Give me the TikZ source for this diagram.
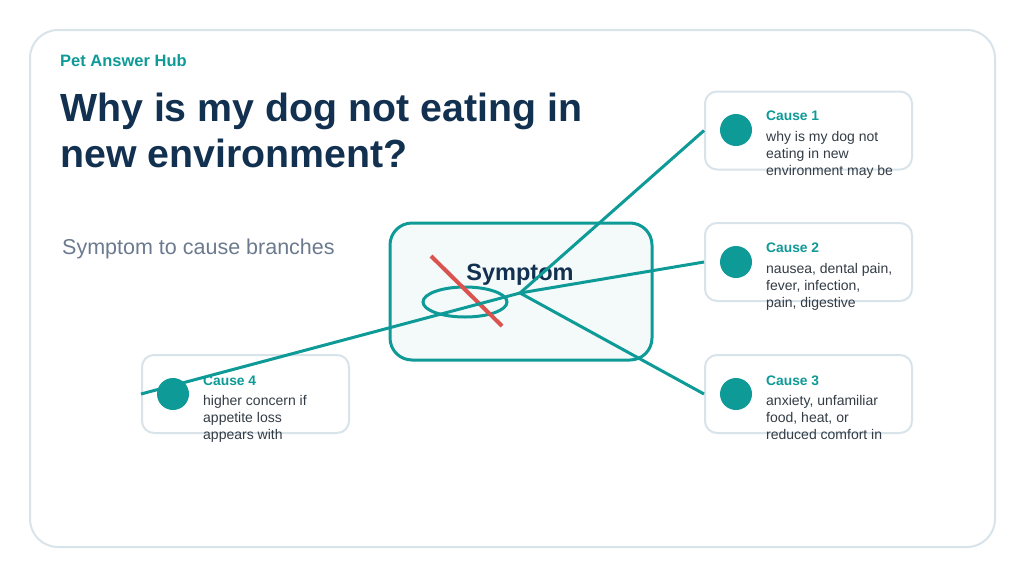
\documentclass[tikz,border=0pt]{standalone}
\usepackage{fontspec}
\setmainfont{Liberation Sans}
\usetikzlibrary{positioning, shapes.geometric}
\definecolor{hubteal}{HTML}{0E9A97}
\definecolor{hubnavy}{HTML}{12304F}
\definecolor{hubgray}{HTML}{6B7A8E}
\definecolor{hubtext}{HTML}{333C45}
\definecolor{hubline}{HTML}{D9E3EA}
\definecolor{hubred}{HTML}{D9534F}
\definecolor{hubfill}{HTML}{F4F9FA}

\begin{document}
\begin{tikzpicture}[x=1pt, y=-1pt,
    causebox/.style={rectangle, rounded corners=12pt, draw=hubline, line width=2pt, fill=white, minimum width=207pt, minimum height=78pt},
    dot/.style={circle, fill=hubteal, minimum size=32pt, inner sep=0pt},
    causetitle/.style={anchor=base west, inner sep=0pt, font=\fontsize{13.8}{16}\selectfont\bfseries, color=hubteal},
    causetext/.style={anchor=base west, inner sep=0pt, align=left, font=\fontsize{14}{17}\selectfont, color=hubtext},
    branch/.style={line width=3pt, color=hubteal}
]
\useasboundingbox (0,0) rectangle (1024,576);

% card
\draw[hubline, line width=2pt, rounded corners=28pt] (30,30) rectangle (995,547);

% heading (multi-line nodes sit on their last baseline)
\node[anchor=base west, inner sep=0pt, font=\fontsize{16.5}{20}\selectfont\bfseries, color=hubteal] (brand) at (60,66) {Pet Answer Hub};
\node[anchor=base west, inner sep=0pt, align=left, font=\fontsize{39.3}{46.5}\selectfont\bfseries, color=hubnavy] (title) at (60,167.5) {Why is my dog not eating in\\new environment?};
\node[anchor=base west, inner sep=0pt, font=\fontsize{21.5}{25}\selectfont, color=hubgray] (sub) at (62,254) {Symptom to cause branches};

% symptom
\node[rectangle, rounded corners=22pt, draw=hubteal, line width=3pt, fill=hubfill, minimum width=262pt, minimum height=137pt] (symptom) at (521,291.5) {};
\node[anchor=base, inner sep=0pt, font=\fontsize{23.5}{28}\selectfont\bfseries, color=hubnavy] (symlabel) at (520,280) {Symptom};
\node[ellipse, draw=hubteal, line width=3pt, minimum width=84pt, minimum height=30pt, inner sep=0pt] (ring) at (465,302) {};
\draw[hubred, line width=4pt] (431,256) -- (502,326);
\coordinate (hub) at (520,293);

% causes
\node[causebox] (c1) at (808.5,130.5) {};
\node[dot] (d1) at (736,130) {};
\node[causetitle] (t1) at (766,120) {Cause 1};
\node[causetext] (b1) at (766,175) {why is my dog not\\eating in new\\environment may be};

\node[causebox] (c2) at (808.5,262) {};
\node[dot] (d2) at (736,262) {};
\node[causetitle] (t2) at (766,252) {Cause 2};
\node[causetext] (b2) at (766,307) {nausea, dental pain,\\fever, infection,\\pain, digestive};

\node[causebox] (c3) at (808.5,394) {};
\node[dot] (d3) at (736,394) {};
\node[causetitle] (t3) at (766,385) {Cause 3};
\node[causetext] (b3) at (766,439) {anxiety, unfamiliar\\food, heat, or\\reduced comfort in};

\node[causebox] (c4) at (245.5,394) {};
\node[dot] (d4) at (173,394) {};
\node[causetitle] (t4) at (203,385) {Cause 4};
\node[causetext] (b4) at (203,439) {higher concern if\\appetite loss\\appears with};

% branches
\draw[branch] (hub) -- (c1.west);
\draw[branch] (hub) -- (c2.west);
\draw[branch] (hub) -- (c3.west);
\draw[branch] (hub) -- (c4.west);

\end{tikzpicture}
\end{document}
